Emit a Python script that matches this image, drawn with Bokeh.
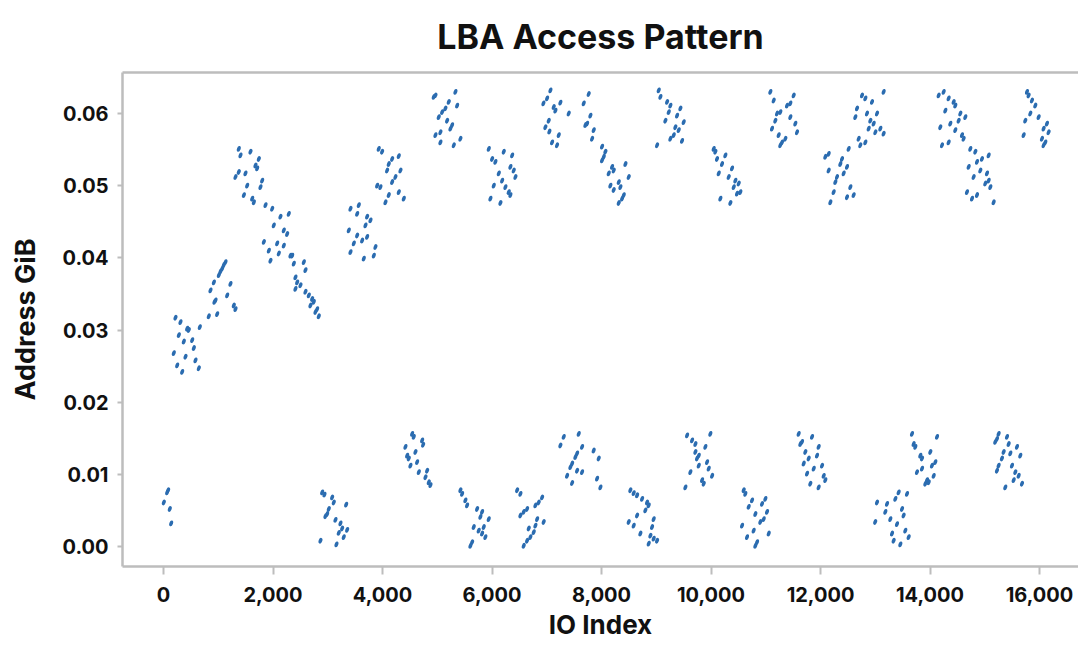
from bokeh.plotting import figure
from bokeh.models import LinearAxis, SingleIntervalTicker, FixedTicker, NumeralTickFormatter, Range1d, ColumnDataSource
from bokeh.embed import file_html
from bokeh.resources import INLINE

# ---- data: IO index vs LBA address (GiB), one pair of lists per cluster ----
io_c01 = [85, 67, 6, 115, 140]
gib_c01 = [0.0078, 0.0075, 0.0061, 0.0052, 0.0032]

io_u01 = [219, 310, 462, 432, 280, 371, 524, 554, 188, 402, 584, 250, 341, 645, 663, 827, 980, 931, 1284, 1315,
          1132, 1072, 1011, 920, 1223, 1163, 858, 950, 1100, 1040]
gib_u01 = [0.0317, 0.0311, 0.0300, 0.0302, 0.0293, 0.0284, 0.0286, 0.0275, 0.0268, 0.0263, 0.0258, 0.0251, 0.0242, 0.0247, 0.0304, 0.0319, 0.0322, 0.0339, 0.0334, 0.0329,
           0.0394, 0.0385, 0.0376, 0.0366, 0.0364, 0.0348, 0.0355, 0.0341, 0.0390, 0.0381]

io_u02 = [1375, 1589, 1406, 1741, 1680, 1711, 1315, 1375, 1497, 1802, 1528, 1771, 1468, 1620, 1650]
gib_u02 = [0.0551, 0.0547, 0.0542, 0.0537, 0.0528, 0.0524, 0.0512, 0.0519, 0.0517, 0.0507, 0.0500, 0.0498, 0.0487, 0.0482, 0.0477]

io_u03 = [1863, 1985, 2136, 2288, 2014, 2197, 2258, 1833, 2076, 2197, 1924, 2106, 1954, 2319]
gib_u03 = [0.0473, 0.0468, 0.0457, 0.0461, 0.0445, 0.0438, 0.0433, 0.0422, 0.0420, 0.0417, 0.0410, 0.0406, 0.0396, 0.0403]

io_u04 = [2350, 2380, 2563, 2593, 2410, 2441, 2502, 2410, 2593, 2654, 2715, 2745, 2684, 2806, 2776, 2836]
gib_u04 = [0.0403, 0.0392, 0.0394, 0.0383, 0.0373, 0.0366, 0.0362, 0.0357, 0.0353, 0.0348, 0.0343, 0.0339, 0.0334, 0.0329, 0.0325, 0.0319]

io_c02 = [2898, 2940, 3080, 3110, 3019, 2989, 2958, 3336, 3141, 3232, 3263, 3354, 3201, 3292, 2867, 3159]
gib_c02 = [0.0075, 0.0072, 0.0068, 0.0061, 0.0052, 0.0045, 0.0042, 0.0058, 0.0037, 0.0032, 0.0025, 0.0023, 0.0019, 0.0013, 0.0008, 0.0003]

io_u05 = [3415, 3567, 3537, 3719, 3780, 3689, 3384, 3537, 3719, 3628, 3476, 3871, 3415, 3841, 3658]
gib_u05 = [0.0468, 0.0473, 0.0461, 0.0457, 0.0452, 0.0445, 0.0438, 0.0431, 0.0429, 0.0424, 0.0420, 0.0415, 0.0408, 0.0403, 0.0399]

io_u06 = [3931, 3993, 4176, 4297, 4114, 4328, 4084, 4236, 4176, 3902, 3962, 4297, 4114, 4389, 4054]
gib_u06 = [0.0551, 0.0547, 0.0537, 0.0541, 0.0530, 0.0521, 0.0521, 0.0512, 0.0505, 0.0500, 0.0498, 0.0491, 0.0487, 0.0482, 0.0477]

io_c03 = [4541, 4571, 4724, 4742, 4419, 4450, 4480, 4602, 4632, 4510, 4663, 4815, 4785, 4845, 4876]
gib_c03 = [0.0156, 0.0152, 0.0147, 0.0141, 0.0138, 0.0126, 0.0122, 0.0131, 0.0117, 0.0112, 0.0103, 0.0105, 0.0096, 0.0089, 0.0085]

io_u07 = [4936, 4967, 5332, 5210, 5363, 5149, 5089, 5027, 5180, 5271, 5241, 5058, 4967, 5423, 5058, 5302]
gib_u07 = [0.0623, 0.0625, 0.0630, 0.0616, 0.0611, 0.0607, 0.0602, 0.0595, 0.0590, 0.0584, 0.0579, 0.0574, 0.0570, 0.0565, 0.0560, 0.0556]

io_c04 = [5423, 5454, 5514, 5545, 5728, 5819, 5788, 5940, 5666, 5757, 5819, 5879, 5637, 5606, 5849]
gib_c04 = [0.0078, 0.0073, 0.0064, 0.0057, 0.0052, 0.0048, 0.0041, 0.0038, 0.0027, 0.0022, 0.0018, 0.0013, 0.0006, 0.0001, 0.0027]

io_u08 = [5941, 6215, 6368, 6002, 6062, 6336, 6397, 6124, 6185, 6428, 6032, 6245, 6306, 6336, 5971, 6154]
gib_u08 = [0.0551, 0.0547, 0.0542, 0.0537, 0.0533, 0.0526, 0.0521, 0.0517, 0.0507, 0.0512, 0.0500, 0.0498, 0.0491, 0.0487, 0.0482, 0.0476]

io_c05 = [6459, 6519, 6915, 6853, 6793, 6641, 6579, 6519, 6824, 6944, 6793, 6671, 6762, 6701, 6641, 6579]
gib_c05 = [0.0078, 0.0073, 0.0068, 0.0061, 0.0057, 0.0052, 0.0048, 0.0043, 0.0038, 0.0034, 0.0029, 0.0025, 0.0020, 0.0013, 0.0008, 0.0001]

io_u09 = [7067, 7006, 7127, 7158, 7401, 7036, 6975, 7097, 7188, 7219, 7249, 6939, 7048]
gib_u09 = [0.0632, 0.0621, 0.0609, 0.0604, 0.0600, 0.0590, 0.0581, 0.0560, 0.0556, 0.0570, 0.0615, 0.0614, 0.0575]

io_c06 = [7249, 7310, 7584, 7645, 7554, 7523, 7463, 7432, 7554, 7645, 7371, 7463, 7857, 7949, 7919, 7980]
gib_c06 = [0.0140, 0.0152, 0.0156, 0.0138, 0.0129, 0.0124, 0.0115, 0.0110, 0.0105, 0.0103, 0.0098, 0.0088, 0.0133, 0.0122, 0.0094, 0.0082]

io_u10 = [7766, 7675, 7797, 7737, 7706, 7858, 7828]
gib_u10 = [0.0627, 0.0614, 0.0597, 0.0586, 0.0584, 0.0577, 0.0565]

io_u11 = [8010, 8071, 8041, 8010, 8193, 8223, 8437, 8132, 8497, 8315, 8162, 8345, 8223, 8406, 8376, 8315]
gib_u11 = [0.0554, 0.0547, 0.0540, 0.0535, 0.0526, 0.0521, 0.0530, 0.0517, 0.0512, 0.0505, 0.0500, 0.0498, 0.0494, 0.0487, 0.0482, 0.0476]

io_c07 = [8527, 8588, 8650, 8741, 8832, 8862, 8801, 8650, 8953, 8497, 8588, 8923, 8710, 8893, 8953, 8862, 9015]
gib_c07 = [0.0078, 0.0074, 0.0071, 0.0066, 0.0061, 0.0057, 0.0050, 0.0043, 0.0038, 0.0034, 0.0029, 0.0027, 0.0018, 0.0015, 0.0011, 0.0004, 0.0008]

io_u12 = [9045, 9076, 9198, 9258, 9441, 9228, 9380, 9167, 9501, 9349, 9410, 9319, 9258, 9471, 9015]
gib_u12 = [0.0632, 0.0623, 0.0616, 0.0611, 0.0607, 0.0602, 0.0597, 0.0590, 0.0588, 0.0581, 0.0577, 0.0570, 0.0565, 0.0562, 0.0556]

io_c08 = [9563, 9654, 9715, 9897, 9988, 9715, 9776, 9745, 9928, 9776, 9958, 9623, 9837, 9867, 10020, 9532]
gib_c08 = [0.0154, 0.0147, 0.0142, 0.0138, 0.0156, 0.0131, 0.0126, 0.0122, 0.0117, 0.0112, 0.0108, 0.0103, 0.0092, 0.0087, 0.0098, 0.0082]

io_u13 = [10049, 10080, 10262, 10110, 10201, 10384, 10141, 10323, 10445, 10506, 10415, 10536, 10475, 10171, 10354]
gib_u13 = [0.0551, 0.0547, 0.0542, 0.0537, 0.0530, 0.0524, 0.0517, 0.0512, 0.0507, 0.0503, 0.0498, 0.0491, 0.0489, 0.0482, 0.0476]

io_c09 = [10597, 10627, 10749, 10688, 10993, 10932, 11023, 10810, 10962, 10901, 10567, 10779, 10658, 11054, 10841, 10810]
gib_c09 = [0.0078, 0.0073, 0.0064, 0.0055, 0.0066, 0.0059, 0.0048, 0.0045, 0.0038, 0.0034, 0.0029, 0.0022, 0.0013, 0.0018, 0.0006, 0.0001]

io_u14 = [11084, 11145, 11510, 11449, 11388, 11266, 11206, 11175, 11449, 11540, 11114, 11571, 11236, 11358, 11297, 11266]
gib_u14 = [0.0630, 0.0618, 0.0625, 0.0614, 0.0611, 0.0602, 0.0600, 0.0590, 0.0595, 0.0586, 0.0579, 0.0574, 0.0570, 0.0565, 0.0560, 0.0556]

io_c10 = [11601, 11632, 11845, 11723, 11966, 11784, 11936, 11693, 12028, 11876, 11754, 12058, 12088, 11814, 11966, 11662]
gib_c10 = [0.0156, 0.0142, 0.0152, 0.0131, 0.0138, 0.0122, 0.0126, 0.0115, 0.0112, 0.0108, 0.0101, 0.0098, 0.0092, 0.0087, 0.0082, 0.0145]

io_u15 = [12149, 12088, 12393, 12362, 12514, 12149, 12484, 12423, 12301, 12271, 12545, 12240, 12484, 12605, 12180]
gib_u15 = [0.0544, 0.0540, 0.0537, 0.0530, 0.0551, 0.0521, 0.0526, 0.0517, 0.0512, 0.0505, 0.0498, 0.0491, 0.0484, 0.0487, 0.0477]

io_u16 = [12758, 12819, 12941, 13153, 12667, 12636, 12849, 12910, 13032, 12971, 12880, 13093, 13002, 13153, 12697, 12819, 12727]
gib_u16 = [0.0625, 0.0621, 0.0616, 0.0630, 0.0607, 0.0595, 0.0600, 0.0590, 0.0600, 0.0586, 0.0579, 0.0579, 0.0574, 0.0572, 0.0565, 0.0560, 0.0556]

io_c11 = [13032, 13215, 13367, 13427, 13580, 13184, 13489, 13275, 13518, 12999, 13397, 13306, 13549, 13610, 13336, 13458]
gib_c11 = [0.0061, 0.0059, 0.0066, 0.0075, 0.0073, 0.0048, 0.0052, 0.0038, 0.0043, 0.0034, 0.0031, 0.0018, 0.0022, 0.0013, 0.0008, 0.0003]

io_c12 = [13671, 13701, 14128, 13732, 14006, 13823, 13854, 14097, 14036, 13854, 13762, 14067, 13945, 13915, 13976]
gib_c12 = [0.0156, 0.0142, 0.0152, 0.0138, 0.0131, 0.0126, 0.0122, 0.0117, 0.0112, 0.0108, 0.0103, 0.0098, 0.0092, 0.0087, 0.0089]

io_u17 = [14158, 14249, 14340, 14432, 14462, 14280, 14554, 14645, 14523, 14188, 14371, 14462, 14584, 14614, 14219, 14340]
gib_u17 = [0.0625, 0.0630, 0.0621, 0.0616, 0.0611, 0.0604, 0.0600, 0.0595, 0.0590, 0.0581, 0.0586, 0.0577, 0.0570, 0.0565, 0.0556, 0.0560]

io_u18 = [14736, 14828, 15071, 14949, 14858, 14706, 14919, 15041, 14797, 15071, 15010, 15102, 14675, 14858, 14767, 15162]
gib_u18 = [0.0551, 0.0547, 0.0542, 0.0537, 0.0533, 0.0526, 0.0521, 0.0517, 0.0512, 0.0507, 0.0503, 0.0498, 0.0491, 0.0487, 0.0482, 0.0477]

io_c13 = [15253, 15223, 15192, 15406, 15436, 15588, 15345, 15467, 15649, 15314, 15253, 15223, 15497, 15558, 15619, 15528, 15680, 15375]
gib_c13 = [0.0156, 0.0149, 0.0145, 0.0152, 0.0142, 0.0138, 0.0131, 0.0129, 0.0126, 0.0122, 0.0112, 0.0105, 0.0112, 0.0103, 0.0098, 0.0092, 0.0087, 0.0082]

io_u19 = [15771, 15801, 15862, 15923, 15832, 15984, 15740, 16136, 16075, 16166, 15710, 16045, 16106, 16075]
gib_u19 = [0.0630, 0.0625, 0.0618, 0.0611, 0.0600, 0.0595, 0.0590, 0.0586, 0.0579, 0.0574, 0.0570, 0.0565, 0.0560, 0.0556]

x_ticks_step = 2000
y_ticks_step = 0.01

clusters = [
    (io_c01, gib_c01), (io_u01, gib_u01), (io_u02, gib_u02), (io_u03, gib_u03), (io_u04, gib_u04),
    (io_c02, gib_c02), (io_u05, gib_u05), (io_u06, gib_u06), (io_c03, gib_c03), (io_u07, gib_u07),
    (io_c04, gib_c04), (io_u08, gib_u08), (io_c05, gib_c05), (io_u09, gib_u09), (io_c06, gib_c06),
    (io_u10, gib_u10), (io_u11, gib_u11), (io_c07, gib_c07), (io_u12, gib_u12), (io_c08, gib_c08),
    (io_u13, gib_u13), (io_c09, gib_c09), (io_u14, gib_u14), (io_c10, gib_c10), (io_u15, gib_u15),
    (io_u16, gib_u16), (io_c11, gib_c11), (io_c12, gib_c12), (io_u17, gib_u17), (io_u18, gib_u18),
    (io_c13, gib_c13), (io_u19, gib_u19),
]
io_all, gib_all = [], []
for xs, ys in clusters:
    io_all += xs
    gib_all += ys
src = ColumnDataSource(data=dict(io=io_all, gib=gib_all))

FONT = "Inter"
GREY = "#bdbdbd"
TXT = "#111111"

p = figure(width=1078, height=646, output_backend="svg", toolbar_location=None,
           x_range=Range1d(-749, 16712), y_range=Range1d(-0.00277, 0.06568),
           x_axis_location=None, y_axis_location=None,
           min_border_left=122, min_border_right=0, min_border_top=72, min_border_bottom=80,
           title="LBA Access Pattern")
p.outline_line_color = None
p.xgrid.visible = False
p.ygrid.visible = False

p.title.align = "center"
p.title.vertical_align = "top"
p.title.text_font = FONT
p.title.text_font_size = "34px"
p.title.text_font_style = "bold"
p.title.text_color = TXT
p.title.standoff = 27

xaxis = LinearAxis(ticker=SingleIntervalTicker(interval=x_ticks_step, num_minor_ticks=0),
                   formatter=NumeralTickFormatter(format="0,0"), axis_label="IO Index")
yaxis = LinearAxis(ticker=SingleIntervalTicker(interval=y_ticks_step, num_minor_ticks=0),
                   formatter=NumeralTickFormatter(format="0.00"), axis_label="Address GiB")
for ax, tout, lstand, astand, lsize in ((xaxis, 8, 12, 4, "26px"), (yaxis, 5, 9, 17, "27px")):
    ax.axis_line_color = GREY
    ax.axis_line_width = 2.5
    ax.major_tick_line_color = GREY
    ax.major_tick_line_width = 2
    ax.major_tick_out = tout
    ax.major_tick_in = 0
    ax.minor_tick_line_color = None
    ax.major_label_text_font = FONT
    ax.major_label_text_font_style = "bold"
    ax.major_label_text_font_size = "20px"
    ax.major_label_text_color = TXT
    ax.major_label_standoff = lstand
    ax.axis_label_text_font = FONT
    ax.axis_label_text_font_style = "bold"
    ax.axis_label_text_font_size = lsize
    ax.axis_label_text_color = TXT
    ax.axis_label_standoff = astand
p.add_layout(xaxis, "below")
p.add_layout(yaxis, "left")

top = LinearAxis(ticker=FixedTicker(ticks=[]), axis_line_color=GREY, axis_line_width=2.5,
                 major_tick_line_color=None, minor_tick_line_color=None)
p.add_layout(top, "above")

p.ellipse(x="io", y="gib", source=src, width=3.6, height=6.0, width_units="screen",
          height_units="screen", angle=-0.35, fill_color="#2b6cb0", line_color=None)

open("out.html", "w").write(file_html(p, INLINE))
